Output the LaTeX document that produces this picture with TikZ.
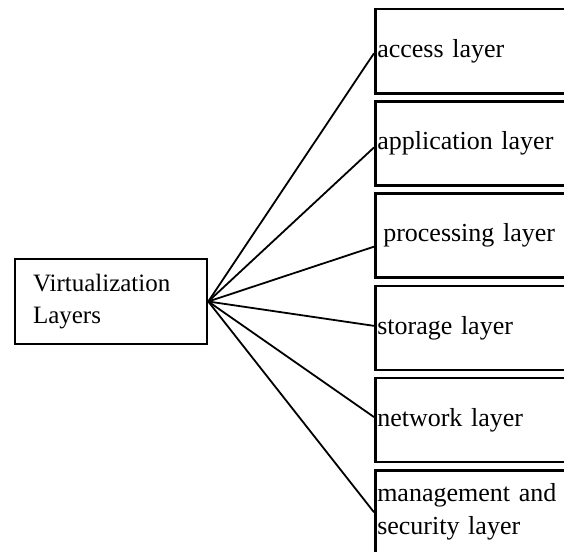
\documentclass[tikz,border=0pt]{standalone}
\usepackage{fontspec}
\setmainfont{Liberation Serif}
\usetikzlibrary{positioning}

\begin{document}
\begin{tikzpicture}[
        x=1pt, y=-1pt,
        node distance=5.7pt,
        rootnode/.style={rectangle, draw=black, line width=2.5pt, minimum height=85pt,
            text width=156pt, inner xsep=18pt, align=left, font=\fontsize{25}{32}\selectfont},
        layernode/.style={rectangle, draw=black, line width=2.5pt, minimum height=84pt,
            text width=230pt, inner xsep=2pt, align=left, font=\fontsize{26}{33}\selectfont}
    ]

        \useasboundingbox (0,0) rectangle (564,551);

        \node [rootnode] (Root) at (111,301.5) {Virtualization\\Layers};

        \node [layernode, anchor=north west] (Layer1) at (374,8) {access layer};
        \node [layernode] (Layer2) [below=of Layer1] {application layer};
        \node [layernode] (Layer3) [below=of Layer2] {\hspace*{6pt}processing layer};
        \node [layernode] (Layer4) [below=of Layer3] {storage layer};
        \node [layernode] (Layer5) [below=of Layer4] {network layer};
        \node [layernode] (Layer6) [below=of Layer5] {management and\\security layer};

        \path[line width=1.8pt] (Root.east) edge ([yshift=-2pt]Layer1.west) ;
        \path[line width=1.8pt] (Root.east) edge ([yshift=-4pt]Layer2.west) ;
        \path[line width=1.8pt] (Root.east) edge ([yshift=-11pt]Layer3.west) ;
        \path[line width=1.8pt] (Root.east) edge ([yshift=2pt]Layer4.west) ;
        \path[line width=1.8pt] (Root.east) edge ([yshift=3pt]Layer5.west) ;
        \path[line width=1.8pt] (Root.east) edge (Layer6.west) ;

    \end{tikzpicture}
\end{document}
